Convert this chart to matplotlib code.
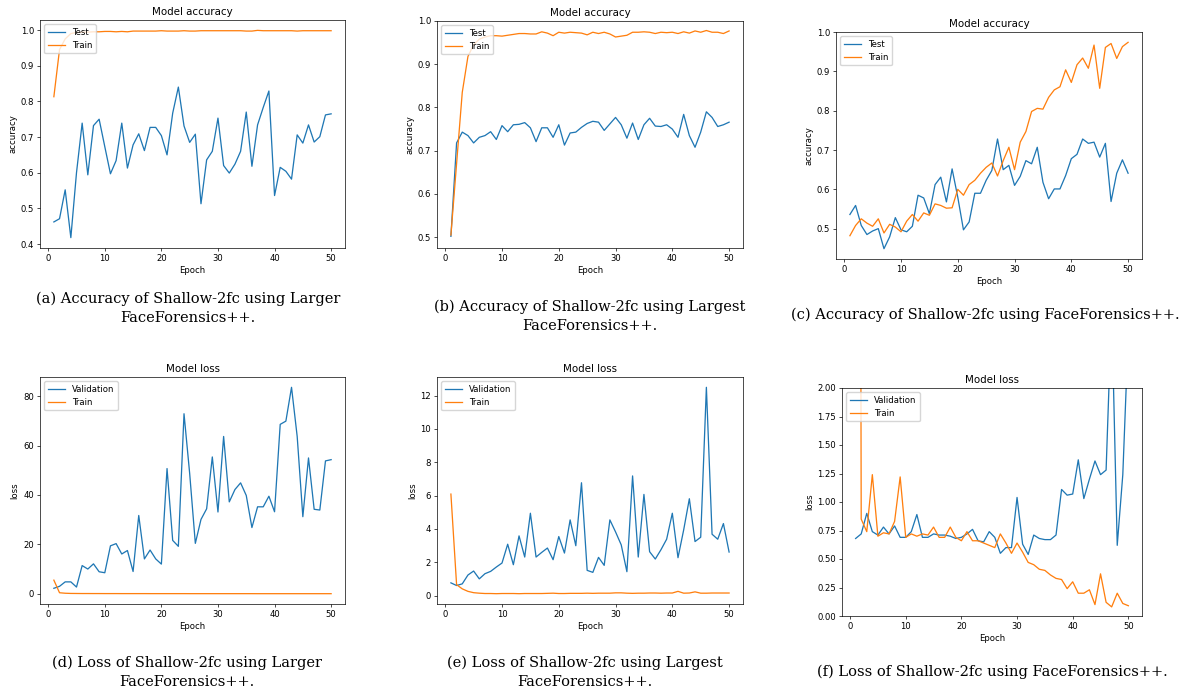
import numpy as np
import matplotlib
matplotlib.use("Agg")
import matplotlib.pyplot as plt

epochs = np.arange(1, 51)

# (a) accuracy, larger FF++
acc_a_test = [0.462, 0.471, 0.552, 0.418, 0.600, 0.739, 0.594, 0.732, 0.750, 0.673,
              0.597, 0.634, 0.739, 0.613, 0.678, 0.709, 0.662, 0.727, 0.727, 0.704,
              0.650, 0.767, 0.840, 0.731, 0.685, 0.708, 0.513, 0.636, 0.660, 0.753,
              0.620, 0.599, 0.624, 0.660, 0.770, 0.618, 0.734, 0.783, 0.829, 0.536,
              0.615, 0.604, 0.582, 0.706, 0.683, 0.734, 0.686, 0.701, 0.762, 0.765]
acc_a_train = [0.813, 0.945, 0.975, 0.990, 0.993, 0.994, 0.994, 0.995, 0.995, 0.996,
               0.996, 0.995, 0.996, 0.995, 0.997, 0.997, 0.997, 0.997, 0.997, 0.998,
               0.997, 0.997, 0.997, 0.998, 0.997, 0.997, 0.998, 0.998, 0.998, 0.998,
               0.998, 0.998, 0.998, 0.998, 0.997, 0.997, 0.999, 0.998, 0.998, 0.998,
               0.998, 0.998, 0.998, 0.997, 0.998, 0.998, 0.998, 0.998, 0.998, 0.998]

# (b) accuracy, largest FF++
acc_b_test = [0.502, 0.718, 0.743, 0.735, 0.718, 0.731, 0.735, 0.744, 0.726, 0.758,
              0.744, 0.760, 0.761, 0.765, 0.753, 0.721, 0.753, 0.753, 0.731, 0.760,
              0.713, 0.741, 0.743, 0.754, 0.763, 0.768, 0.766, 0.747, 0.762, 0.777,
              0.760, 0.729, 0.764, 0.726, 0.760, 0.775, 0.757, 0.756, 0.760, 0.750,
              0.731, 0.784, 0.735, 0.708, 0.743, 0.790, 0.777, 0.756, 0.760, 0.766]
acc_b_train = [0.505, 0.670, 0.835, 0.918, 0.945, 0.958, 0.963, 0.966, 0.966, 0.965,
               0.967, 0.969, 0.971, 0.971, 0.970, 0.970, 0.975, 0.972, 0.966, 0.974,
               0.972, 0.974, 0.973, 0.972, 0.968, 0.974, 0.971, 0.974, 0.970, 0.963,
               0.965, 0.967, 0.974, 0.974, 0.975, 0.974, 0.971, 0.974, 0.973, 0.974,
               0.971, 0.975, 0.972, 0.977, 0.974, 0.978, 0.974, 0.974, 0.971, 0.977]

# (c) accuracy, FF++
acc_c_test = [0.536, 0.559, 0.508, 0.485, 0.494, 0.500, 0.449, 0.479, 0.528, 0.497,
              0.492, 0.506, 0.585, 0.578, 0.538, 0.612, 0.631, 0.568, 0.652, 0.580,
              0.497, 0.517, 0.590, 0.590, 0.623, 0.648, 0.728, 0.650, 0.661, 0.610,
              0.633, 0.673, 0.665, 0.707, 0.618, 0.576, 0.601, 0.601, 0.635, 0.678,
              0.689, 0.728, 0.717, 0.720, 0.682, 0.717, 0.569, 0.641, 0.675, 0.641]
acc_c_train = [0.482, 0.508, 0.525, 0.514, 0.506, 0.525, 0.489, 0.511, 0.504, 0.492,
               0.519, 0.536, 0.519, 0.540, 0.534, 0.563, 0.559, 0.552, 0.553, 0.600,
               0.585, 0.612, 0.623, 0.641, 0.656, 0.667, 0.634, 0.673, 0.707, 0.650,
               0.720, 0.747, 0.798, 0.806, 0.804, 0.834, 0.853, 0.861, 0.904, 0.872,
               0.917, 0.934, 0.908, 0.967, 0.857, 0.961, 0.971, 0.933, 0.963, 0.974]

# (d) loss, larger FF++
loss_d_val = [2.2, 3.0, 4.8, 4.8, 2.7, 11.4, 10.0, 12.1, 8.9, 8.5,
              19.4, 20.3, 16.1, 17.5, 9.0, 31.7, 14.1, 17.7, 14.1, 12.0,
              50.7, 21.6, 19.2, 72.9, 48.7, 20.4, 30.1, 34.4, 55.4, 33.1,
              63.7, 37.2, 42.2, 44.9, 39.8, 26.8, 35.2, 35.2, 39.5, 33.2,
              68.6, 69.9, 83.6, 63.7, 31.2, 55.0, 34.2, 33.9, 53.8, 54.3]
loss_d_train = [5.5, 0.4, 0.2, 0.12, 0.1, 0.08, 0.08, 0.07, 0.07, 0.06,
                0.06, 0.06, 0.05, 0.05, 0.05, 0.05, 0.05, 0.04, 0.04, 0.04,
                0.04, 0.04, 0.04, 0.04, 0.03, 0.03, 0.03, 0.03, 0.03, 0.03,
                0.03, 0.03, 0.03, 0.03, 0.03, 0.03, 0.02, 0.02, 0.02, 0.02,
                0.02, 0.02, 0.02, 0.02, 0.02, 0.02, 0.02, 0.02, 0.02, 0.02]

# (e) loss, largest FF++
loss_e_val = [0.76, 0.60, 0.70, 1.23, 1.47, 1.00, 1.31, 1.45, 1.71, 1.95,
              3.08, 1.85, 3.58, 2.31, 4.94, 2.31, 2.59, 2.85, 2.15, 3.54,
              2.55, 4.54, 2.99, 6.77, 1.51, 1.39, 2.29, 1.81, 4.54, 3.82,
              3.04, 1.43, 7.18, 2.31, 6.07, 2.63, 2.19, 2.75, 3.38, 4.94,
              2.27, 3.94, 5.81, 3.24, 3.50, 12.50, 3.68, 3.38, 4.32, 2.61]
loss_e_train = [6.09, 0.65, 0.40, 0.25, 0.17, 0.14, 0.12, 0.12, 0.11, 0.12,
                0.12, 0.12, 0.11, 0.12, 0.12, 0.12, 0.12, 0.13, 0.14, 0.12,
                0.12, 0.13, 0.13, 0.13, 0.14, 0.13, 0.14, 0.14, 0.14, 0.16,
                0.16, 0.14, 0.13, 0.14, 0.14, 0.15, 0.15, 0.14, 0.15, 0.15,
                0.25, 0.14, 0.15, 0.22, 0.14, 0.14, 0.15, 0.15, 0.15, 0.15]

# (f) loss, FF++
loss_f_val = [0.68, 0.72, 0.90, 0.74, 0.71, 0.78, 0.72, 0.79, 0.69, 0.69,
              0.74, 0.89, 0.69, 0.69, 0.72, 0.71, 0.71, 0.70, 0.68, 0.69,
              0.72, 0.76, 0.66, 0.65, 0.74, 0.69, 0.55, 0.60, 0.60, 1.04,
              0.63, 0.54, 0.71, 0.68, 0.67, 0.67, 0.71, 1.11, 1.06, 1.07,
              1.37, 1.03, 1.20, 1.36, 1.24, 1.28, 2.70, 0.62, 1.24, 2.50]
loss_f_train = [25.0, 0.85, 0.74, 1.24, 0.70, 0.73, 0.72, 0.83, 1.22, 0.69,
                0.72, 0.70, 0.72, 0.71, 0.78, 0.69, 0.69, 0.78, 0.69, 0.66,
                0.74, 0.66, 0.66, 0.64, 0.62, 0.60, 0.72, 0.64, 0.55, 0.64,
                0.56, 0.47, 0.45, 0.41, 0.40, 0.36, 0.33, 0.32, 0.24, 0.30,
                0.20, 0.20, 0.23, 0.10, 0.37, 0.12, 0.08, 0.20, 0.11, 0.09]

captions = [
    "(a) Accuracy of Shallow-2fc using Larger\nFaceForensics++.",
    "(b) Accuracy of Shallow-2fc using Largest\nFaceForensics++.",
    "(c) Accuracy of Shallow-2fc using FaceForensics++.",
    "(d) Loss of Shallow-2fc using Larger\nFaceForensics++.",
    "(e) Loss of Shallow-2fc using Largest\nFaceForensics++.",
    "(f) Loss of Shallow-2fc using FaceForensics++.",
]

s = 0.617  # the sub-figures are shrunk screenshots of default 640x480 plots
fs = 10 * s

fig = plt.figure(figsize=(11.84, 6.93), dpi=100)


def panel(rect, first, second, labels, title, ylabel, ylim=None):
    ax = fig.add_axes(rect)
    ax.plot(epochs, first, color="#1f77b4", lw=1.5 * s, label=labels[0])
    ax.plot(epochs, second, color="#ff7f0e", lw=1.5 * s, label=labels[1])
    if ylim is not None:
        ax.set_ylim(ylim)
    ax.set_title(title, fontsize=12 * s, pad=6 * s)
    ax.set_xlabel("Epoch", fontsize=fs, labelpad=4 * s)
    ax.set_ylabel(ylabel, fontsize=fs, labelpad=4 * s)
    ax.tick_params(labelsize=fs, length=3.5 * s, width=0.8 * s, pad=3.5 * s)
    for sp in ax.spines.values():
        sp.set_linewidth(0.8 * s)
    ax.legend(loc="upper left", fontsize=fs, handlelength=2, borderpad=0.4,
              labelspacing=0.5, framealpha=0.8, edgecolor="#cccccc")
    return ax


W = 1184.0
H = 693.0


def rect(l, t, r, b):
    return [l / W, 1 - b / H, (r - l) / W, (b - t) / H]


panel(rect(40, 20, 345, 248), acc_a_test, acc_a_train, ["Test", "Train"],
      "Model accuracy", "accuracy")
panel(rect(437, 21, 743, 248), acc_b_test, acc_b_train, ["Test", "Train"],
      "Model accuracy", "accuracy", ylim=(0.475, 1.0))
panel(rect(836, 32, 1142, 259), acc_c_test, acc_c_train, ["Test", "Train"],
      "Model accuracy", "accuracy")
panel(rect(40, 377, 345, 604), loss_d_val, loss_d_train, ["Validation", "Train"],
      "Model loss", "loss")
panel(rect(437, 377, 743, 604), loss_e_val, loss_e_train, ["Validation", "Train"],
      "Model loss", "loss")
panel(rect(842, 388, 1142, 616), loss_f_val, loss_f_train, ["Validation", "Train"],
      "Model loss", "loss", ylim=(0, 2))

cap_pos = [(188, 308), (590, 316), (985, 315), (187, 672), (585, 672), (992, 672)]
for (cx, cy), txt in zip(cap_pos, captions):
    fig.text(cx / W, 1 - cy / H, txt, ha="center", va="center",
             fontsize=10.5, family="DejaVu Serif", linespacing=1.45)

fig.savefig("out.png", dpi=100)
